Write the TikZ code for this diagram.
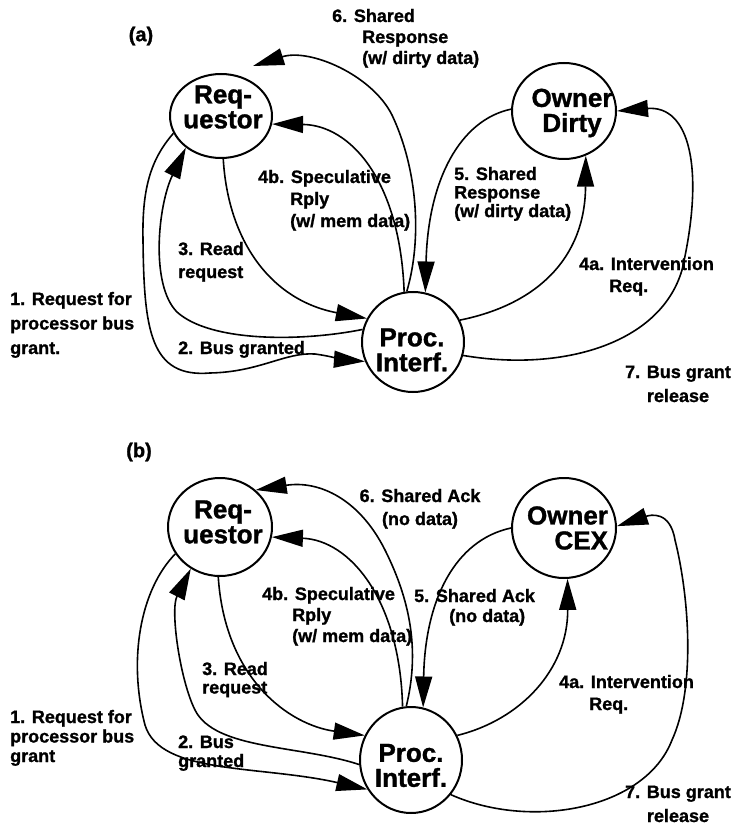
\documentclass[tikz,border=0pt]{standalone}
\usepackage{fontspec}
\setmainfont{Liberation Sans}[BoldFeatures={FakeBold=1.2}]
\usetikzlibrary{arrows.meta,shapes.geometric,calc}

% multi-line label bodies whose baseline is the first line
\newcommand{\lblL}[1]{\begin{tabular}[t]{@{}l@{}}#1\end{tabular}}
\newcommand{\lblC}[1]{\begin{tabular}[t]{@{}c@{}}#1\end{tabular}}

\tikzset{
  agent/.style={draw, ellipse, line width=2pt, inner sep=0pt},
  ntext/.style={font=\fontsize{26}{25}\selectfont\bfseries, align=center, inner sep=0pt},
  lab/.style={inner sep=0pt, font=\fontsize{18}{#1}\selectfont\bfseries},
  tag/.style={inner sep=0pt, font=\fontsize{20}{22}\selectfont\bfseries},
  conn/.style={line width=1.6pt, -{Triangle[length=31pt,width=17pt]}}
}

\begin{document}
\begin{tikzpicture}[x=1pt,y=-1pt]
\fill[white] (0,0) rectangle (734,826);
\useasboundingbox (0,0) rectangle (734,826);

% ---------------- (a) ----------------
\node[tag] (ta) at (141,36) {(a)};

\node[agent, minimum width=102pt, minimum height=84pt,
  label={[ntext, xshift=2pt, yshift=9pt]center:{Req-\\uestor}}] (reqA) at (221,116) {};
\node[agent, minimum width=104pt, minimum height=96pt,
  label={[ntext, xshift=8pt, yshift=-2pt]center:{Owner\\Dirty}}] (ownA) at (564,111) {};
\node[agent, minimum width=102pt, minimum height=100pt,
  label={[ntext, xshift=-1pt, yshift=-8pt]center:{Proc.\\Interf.}}] (procA) at (413,342) {};

\node[lab=21, anchor=base west] (t6a) at (332,22)
  {\lblL{6. Shared\\\hspace*{30pt}Response\\\hspace*{30pt}(w/ dirty data)}};
\node[lab=22, anchor=base west] (t4ba) at (258,183)
  {\lblL{4b. Speculative\\\hspace*{32pt}Rply\\\hspace*{32pt}(w/ mem data)}};
\node[lab=18.5, anchor=base west] (t5a) at (454,180)
  {\lblL{5. Shared\\Response\\(w/ dirty data)}};
\node[lab=23, anchor=base west] (t3a) at (178,255) {\lblL{3. Read\\request}};
\node[lab=24.5, anchor=base west] (t1a) at (10,305)
  {\lblL{1. Request for\\processor bus\\grant.}};
\node[lab=22, anchor=base west] (t2a) at (178,354) {2. Bus granted};
\node[lab=22, anchor=base west] (t4aa) at (579,270)
  {\lblL{4a. Intervention\\\hspace*{30pt}Req.}};
\node[lab=24, anchor=base] (t7a) at (678,378) {\lblC{7. Bus grant\\release}};

% 1. request for the bus
\draw[conn] (reqA.200) .. controls (150,160) and (142,190) .. (143,240)
  .. controls (144,330) and (150,378) .. (210,373)
  .. controls (260,372) and (285,352) .. (315,354)
  .. controls (330,356) and (345,360) .. (procA.202);
% 2. bus granted
\draw[conn] (procA.166) .. controls (300,342) and (210,342) .. (177,312)
  .. controls (150,285) and (158,205) .. (reqA.222);
% 3. read request
\draw[conn] (reqA.273) .. controls (228,240) and (270,300) .. (procA.153);
% 4b. speculative reply
\draw[conn] (procA.100) .. controls (400,180) and (350,125) .. (reqA.351);
% 6. shared response
\draw[conn] (procA.97) .. controls (422,240) and (418,170) .. (392,115)
  .. controls (372,75) and (310,48) .. ($(reqA)+(32,-50)$);
% 5. shared response from the owner
\draw[conn] (ownA.178) .. controls (460,120) and (428,180) .. (procA.76);
% 4a. intervention request
\draw[conn] (procA.25) .. controls (535,305) and (585,260) .. (ownA.296);
% 7. bus grant release
\draw[conn] (procA.345) .. controls (560,372) and (660,345) .. (682,270)
  .. controls (705,170) and (690,105) .. (ownA.0);

% ---------------- (b) ----------------
\node[tag] (tb) at (139,452) {(b)};

\node[agent, minimum width=104pt, minimum height=98pt,
  label={[ntext, xshift=3pt, yshift=5pt]center:{Req-\\uestor}}] (reqB) at (220,527) {};
\node[agent, minimum width=104pt, minimum height=100pt,
  label={[ntext, align=right, xshift=3.5pt]center:{Owner\\CEX}}] (ownB) at (564,528) {};
\node[agent, minimum width=102pt, minimum height=106pt,
  label={[ntext, yshift=-5.5pt]center:{Proc.\\Interf.}}] (procB) at (411,760) {};

\node[lab=23, anchor=base] (t6b) at (420,502) {\lblC{6. Shared Ack\\(no data)}};
\node[lab=21, anchor=base west] (t4bb) at (262,600)
  {\lblL{4b. Speculative\\\hspace*{30pt}Rply\\\hspace*{30pt}(w/ mem data)}};
\node[lab=20, anchor=base west] (t5b) at (414,602)
  {\lblL{5. Shared Ack\\\hspace*{35pt}(no data)}};
\node[lab=18.5, anchor=base west] (t3b) at (202,675) {\lblL{3. Read\\request}};
\node[lab=19.5, anchor=base west] (t1b) at (10,723)
  {\lblL{1. Request for\\processor bus\\grant}};
\node[lab=19, anchor=base west] (t2b) at (178,748) {\lblL{2. Bus\\granted}};
\node[lab=22, anchor=base west] (t4ab) at (559,688)
  {\lblL{4a. Intervention\\\hspace*{30pt}Req.}};
\node[lab=24, anchor=base] (t7b) at (678,798) {\lblC{7. Bus grant\\release}};

% 1. request for the bus
\draw[conn] (reqB.211) .. controls (140,590) and (128,660) .. (145,725)
  .. controls (160,775) and (260,765) .. (procB.214);
% 2. bus granted
\draw[conn] (procB.185) .. controls (300,745) and (215,750) .. (195,710)
  .. controls (180,680) and (170,610) .. (reqB.235);
% 3. read request
\draw[conn] (reqB.268) .. controls (225,680) and (290,725) .. (procB.152);
% 4b. speculative reply
\draw[conn] (procB.99) .. controls (400,600) and (350,540) .. (reqB.349);
% 6. shared ack
\draw[conn] (procB.95) .. controls (420,650) and (410,600) .. (385,550)
  .. controls (360,500) and (320,480) .. (reqB.46);
% 5. shared ack from the owner
\draw[conn] (ownB.180) .. controls (455,540) and (425,600) .. (procB.77);
% 4a. intervention request
\draw[conn] (procB.28) .. controls (520,720) and (568,670) .. (ownB.274);
% 7. bus grant release
\draw[conn] (procB.319) .. controls (530,830) and (645,810) .. (672,740)
  .. controls (695,690) and (690,600) .. (675,540)
  .. controls (670,510) and (650,515) .. (ownB.2);

\end{tikzpicture}
\end{document}
